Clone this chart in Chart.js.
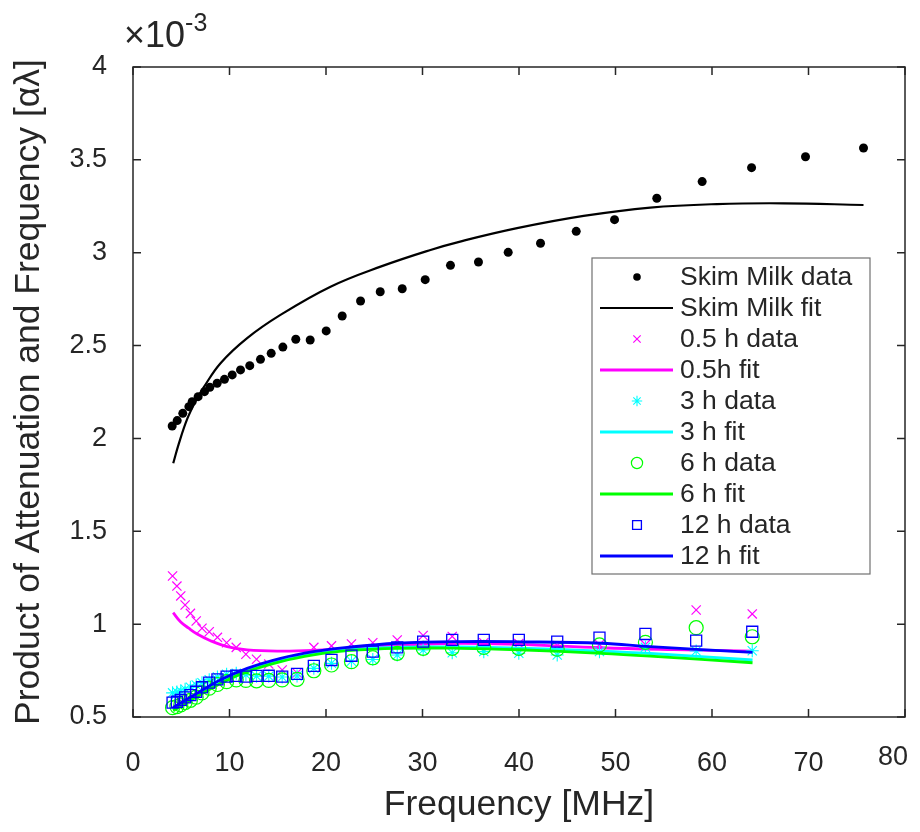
<!DOCTYPE html>
<html><head><meta charset="utf-8">
<script src="https://cdn.jsdelivr.net/npm/chart.js@4.4.0/dist/chart.umd.min.js"></script>
<style>html,body{margin:0;padding:0;background:#fff;}#wrap{position:relative;width:920px;height:832px;}</style>
</head><body><div id="wrap"><canvas id="c" width="920" height="832"></canvas></div>
<script>
// ---- data (values in units of 1e-3) ----
const skimFreq = [4.06,4.58,5.16,5.79,6.13,6.75,7.41,7.96,8.72,9.48,10.28,11.14,12.1,13.21,14.32,15.53,16.87,18.36,20.02,21.68,23.58,25.62,27.9,30.28,32.9,35.8,38.88,42.23,45.93,49.9,54.28,58.98,64.1,69.69,75.7];
const skimData = [2.067,2.096,2.135,2.171,2.198,2.225,2.252,2.275,2.297,2.318,2.342,2.369,2.392,2.426,2.458,2.492,2.534,2.530,2.579,2.659,2.740,2.790,2.806,2.855,2.932,2.950,3.002,3.051,3.115,3.178,3.293,3.383,3.458,3.517,3.564];

const skimFitFreq = [4.17,4.75,5.62,6.48,7.34,9.07,11.83,15.28,20.47,25.65,30.83,33.9,39.8,46.7,53.6,60.5,67.4,75.7];
const skimFitVals = [1.866,1.972,2.105,2.200,2.276,2.405,2.540,2.665,2.817,2.925,3.015,3.060,3.132,3.198,3.243,3.262,3.266,3.257];

const lowFreq = [4.1,4.55,4.95,5.4,5.95,6.55,7.15,7.9,8.75,9.7,10.7,11.7,12.8,14.07,15.46,17.0,18.74,20.57,22.64,24.85,27.38,30.07,33.08,36.35,39.98,43.96,48.34,53.1,58.36,64.17];
const h05Data = [1.259,1.205,1.152,1.103,1.058,1.017,0.978,0.959,0.929,0.900,0.875,0.838,0.811,0.785,0.753,0.737,0.875,0.883,0.893,0.900,0.915,0.939,0.934,0.900,0.895,0.885,0.890,0.890,1.076,1.055];
const h3Data  = [0.630,0.635,0.640,0.650,0.660,0.672,0.685,0.700,0.715,0.730,0.735,0.727,0.720,0.720,0.715,0.721,0.762,0.789,0.800,0.810,0.834,0.861,0.846,0.852,0.843,0.834,0.852,0.875,0.855,0.857];
const h6Data  = [0.550,0.556,0.565,0.578,0.590,0.607,0.630,0.655,0.675,0.690,0.700,0.697,0.695,0.697,0.700,0.703,0.749,0.780,0.798,0.819,0.843,0.870,0.870,0.875,0.870,0.865,0.888,0.902,0.981,0.932];
const h12Data = [0.577,0.582,0.592,0.606,0.618,0.636,0.660,0.685,0.703,0.717,0.722,0.717,0.721,0.722,0.717,0.732,0.775,0.807,0.830,0.852,0.875,0.906,0.915,0.915,0.915,0.906,0.927,0.947,0.911,0.959];

const h05FitFreq = [4.16,4.92,5.78,6.65,8.03,9.76,11.83,15.3,18.7,22.2,27.4,33.9,40,48.5,56,64.2];
const h05FitVals = [1.062,1.013,0.978,0.947,0.911,0.879,0.861,0.855,0.859,0.870,0.886,0.897,0.891,0.873,0.863,0.855];
const lowFitFreq = [4.16,6.65,9.07,11.83,15.3,18.7,22.2,27.4,33.9,40,48.5,53.6,64.2];
const h3FitVals  = [0.540,0.617,0.688,0.750,0.804,0.840,0.862,0.876,0.877,0.871,0.855,0.842,0.807];
const h6FitVals  = [0.534,0.610,0.681,0.744,0.798,0.834,0.857,0.870,0.870,0.862,0.843,0.828,0.792];
const h12FitVals = [0.552,0.628,0.700,0.762,0.816,0.852,0.875,0.897,0.906,0.905,0.897,0.879,0.848];

const xTicks = [0,10,20,30,40,50,60,70,80];
const yTicks = [0.5,1,1.5,2,2.5,3,3.5,4];

const FONT = "'Liberation Sans', Arial, Helvetica, sans-serif";
const AX = '#262626';
const pts = (xs, ys) => xs.map((x, i) => ({x: x, y: ys[i]}));

function dataSet(label, xs, ys, style, color, radius, bw) {
  return {label, data: pts(xs, ys), showLine: false, pointStyle: style, pointRadius: radius,
    pointBorderColor: color, pointBackgroundColor: style === 'circle' && color === '#000000' ? color : 'rgba(0,0,0,0)',
    pointBorderWidth: bw, borderColor: color, backgroundColor: color, _kind: 'data'};
}
function fitSet(label, xs, ys, color, w) {
  return {label, data: pts(xs, ys), showLine: true, pointRadius: 0, borderColor: color, borderWidth: w,
    tension: 0.4, fill: false, _kind: 'fit'};
}

const datasets = [
  dataSet('Skim Milk data', skimFreq, skimData, 'circle', '#000000', 4.5, 0),
  fitSet('Skim Milk fit', skimFitFreq, skimFitVals, '#000000', 2.2),
  dataSet('0.5 h data', lowFreq, h05Data, 'crossRot', '#ff00ff', 6.5, 1.2),
  fitSet('0.5h fit', h05FitFreq, h05FitVals, '#ff00ff', 2.8),
  dataSet('3 h data', lowFreq, h3Data, 'star', '#00ffff', 6.5, 1.1),
  fitSet('3 h fit', lowFitFreq, h3FitVals, '#00ffff', 2.8),
  dataSet('6 h data', lowFreq, h6Data, 'circle', '#00ff00', 7, 1.2),
  fitSet('6 h fit', lowFitFreq, h6FitVals, '#00ff00', 2.8),
  dataSet('12 h data', lowFreq, h12Data, 'rect', '#0000ff', 7.8, 1.3),
  fitSet('12 h fit', lowFitFreq, h12FitVals, '#0000ff', 2.8)
];
datasets.forEach((d, i) => { d.order = datasets.length - i; });

const boxPlugin = {
  id: 'matlabBox',
  afterDatasetsDraw(chart) {
    const {ctx, chartArea: a, scales: {x, y}} = chart;
    ctx.save();
    ctx.strokeStyle = AX; ctx.lineWidth = 1.5;
    ctx.strokeRect(a.left, a.top, a.right - a.left, a.bottom - a.top);
    const tl = 8;
    ctx.beginPath();
    xTicks.forEach(v => { const px = x.getPixelForValue(v);
      ctx.moveTo(px, a.bottom); ctx.lineTo(px, a.bottom - tl);
      ctx.moveTo(px, a.top); ctx.lineTo(px, a.top + tl); });
    yTicks.forEach(v => { const py = y.getPixelForValue(v);
      ctx.moveTo(a.left, py); ctx.lineTo(a.left + tl, py);
      ctx.moveTo(a.right, py); ctx.lineTo(a.right - tl, py); });
    ctx.stroke();
    // last x tick label (MATLAB pulls it inward at the figure edge)
    const last = xTicks[xTicks.length - 1];
    ctx.fillStyle = AX; ctx.font = '27px ' + FONT; ctx.textAlign = 'center'; ctx.textBaseline = 'middle';
    ctx.fillText(String(last), x.getPixelForValue(last) - 12, a.bottom + 41);
    // exponent label
    ctx.textBaseline = 'alphabetic'; ctx.textAlign = 'left';
    ctx.font = '36px ' + FONT;
    ctx.fillText('\u00d710', a.left - 9, a.top - 20);
    const w = ctx.measureText('\u00d710').width;
    ctx.font = '25px ' + FONT;
    ctx.fillText('-3', a.left - 9 + w, a.top - 36);
    // legend
    const lx = 592, ly = 258, lw = 278, lh = 316;
    ctx.fillStyle = '#ffffff'; ctx.fillRect(lx, ly, lw, lh);
    ctx.strokeStyle = '#707070'; ctx.lineWidth = 1.2; ctx.strokeRect(lx, ly, lw, lh);
    ctx.font = '26.5px ' + FONT; ctx.textBaseline = 'middle';
    chart.data.datasets.forEach((d, i) => {
      const cy = ly + 19 + i * 31;
      if (d._kind === 'fit') {
        ctx.strokeStyle = d.borderColor; ctx.lineWidth = d.borderWidth;
        ctx.beginPath(); ctx.moveTo(lx + 8, cy); ctx.lineTo(lx + 81, cy); ctx.stroke();
      } else {
        ctx.strokeStyle = d.pointBorderColor; ctx.fillStyle = d.pointBackgroundColor;
        ctx.lineWidth = d.pointBorderWidth;
        const r = d.pointStyle === 'circle' && d.pointBorderWidth === 0 ? 3.8 : d.pointRadius * 0.8;
        Chart.helpers.drawPoint(ctx, {pointStyle: d.pointStyle, radius: r, rotation: 0, borderWidth: d.pointBorderWidth}, lx + 45, cy);
      }
      ctx.fillStyle = '#262626';
      ctx.fillText(d.label, lx + 88, cy + 1);
    });
    ctx.restore();
  }
};

new Chart(document.getElementById('c'), {
  type: 'scatter',
  data: {datasets},
  options: {
    responsive: false, animation: false, events: [],
    layout: {padding: {left: 0, top: 67, right: 15, bottom: 0}},
    plugins: {legend: {display: false}, tooltip: {enabled: false}},
    scales: {
      x: {type: 'linear', min: 0, max: 80,
        afterBuildTicks: s => { s.ticks = xTicks.map(v => ({value: v})); },
        afterFit: s => { s.height = 115; s.paddingLeft = 0; s.paddingRight = 0; },
        grid: {display: false, drawTicks: false}, border: {display: false},
        ticks: {font: {family: FONT, size: 27}, color: AX, padding: 30, maxRotation: 0, autoSkip: false,
          callback: v => (v === xTicks[xTicks.length - 1] ? '' : String(v))},
        title: {display: true, text: 'Frequency [MHz]', font: {family: FONT, size: 35.5}, color: AX, padding: {top: 0, bottom: 5}}
      },
      y: {type: 'linear', min: 0.5, max: 4,
        afterBuildTicks: s => { s.ticks = yTicks.map(v => ({value: v})); },
        afterFit: s => { s.width = 133; },
        grid: {display: false, drawTicks: false}, border: {display: false},
        ticks: {font: {family: FONT, size: 27}, color: AX, padding: 26, callback: v => String(v)},
        title: {display: true, text: 'Product of Attenuation and Frequency [\u03b1\u03bb]', font: {family: FONT, size: 35.5}, color: AX, padding: {top: 8, bottom: 0}}
      }
    }
  },
  plugins: [boxPlugin]
});
</script></body></html>
